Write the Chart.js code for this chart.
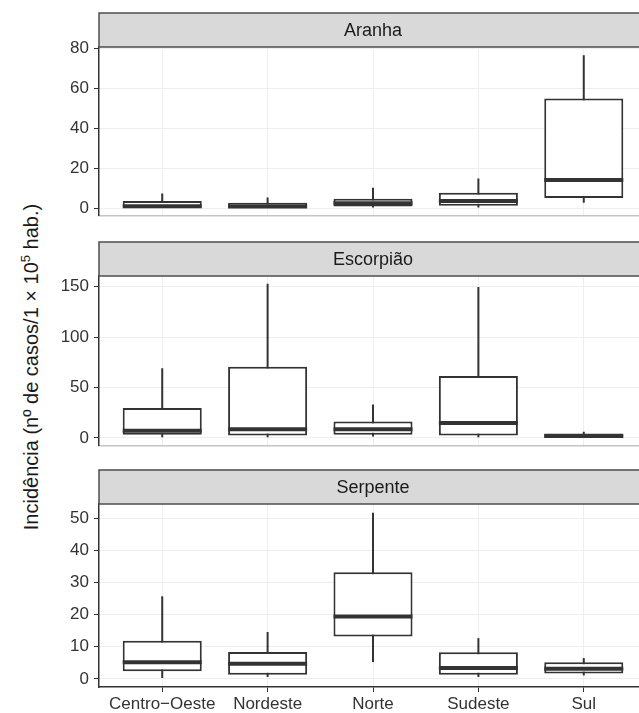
<!DOCTYPE html>
<html>
<head>
<meta charset="utf-8">
<script src="https://cdn.jsdelivr.net/npm/chart.js@4.4.1/dist/chart.umd.min.js"></script>
<style>
    html, body { margin: 0; padding: 0; background: #fff; overflow: hidden; width: 639px; height: 713px; }
    canvas { position: absolute; left: 0; }
    #ytitle {
        position: absolute; left: 31px; top: 367px;
        transform: translate(-50%, -50%) rotate(-90deg);
        white-space: nowrap; color: #1a1a1a;
        font: 20px "Liberation Sans", Arial, sans-serif;
    }
    #ytitle sup { font-size: 13px; line-height: 0; }
</style>
</head>
<body>
<div id="ytitle">Incidência (nº de casos/1 × 10<sup>5</sup> hab.)</div>
<canvas id="aranha" width="647" height="220" style="top:11px"></canvas>
<canvas id="escorpiao" width="647" height="221" style="top:240px"></canvas>
<canvas id="serpente" width="647" height="245" style="top:468px"></canvas>
<script>
// regions on the x axis
const regions = ['Centro−Oeste', 'Nordeste', 'Norte', 'Sudeste', 'Sul'];

// Aranha
const aranhaLow = [0, 0, 0.3, 0.3, 2.8];
const aranhaQ1 = [0.4, 0.1, 0.9, 1.2, 5.1];
const aranhaMed = [1.0, 0.8, 2.5, 3.6, 14.1];
const aranhaQ3 = [3.6, 2.8, 4.8, 7.8, 55.0];
const aranhaHigh = [7.4, 5.4, 10.2, 14.9, 76.7];
const aranhaTicks = [0, 20, 40, 60, 80];

// Escorpião
const escorpiaoLow = [0.6, 0.6, 1.5, 0.6, 0];
const escorpiaoQ1 = [3.1, 2.5, 3.1, 2.5, 0.3];
const escorpiaoMed = [7.1, 8.6, 8.6, 14.8, 2.0];
const escorpiaoQ3 = [29.8, 70.7, 16.3, 61.5, 4.4];
const escorpiaoHigh = [69.2, 152.8, 33.2, 149.7, 6.2];
const escorpiaoTicks = [0, 50, 100, 150];

// Serpente
const serpenteLow = [0.3, 0.6, 5.3, 0.6, 1.1];
const serpenteQ1 = [2.4, 1.3, 13.2, 1.3, 1.7];
const serpenteMed = [5.2, 4.7, 19.4, 3.4, 3.2];
const serpenteQ3 = [11.9, 8.4, 33.2, 8.3, 5.2];
const serpenteHigh = [25.7, 14.6, 51.7, 12.7, 6.5];
const serpenteTicks = [0, 10, 20, 30, 40, 50];

Chart.defaults.font.family = '"Liberation Sans", Arial, sans-serif';

const lineColor = '#333333';
const gridColor = '#eeeeee';

// grey strip with the panel name above the plot area
const stripPlugin = {
    id: 'strip',
    afterDraw(chart, args, opts) {
        const ctx = chart.ctx;
        const a = chart.chartArea;
        const h = 34;
        ctx.save();
        ctx.fillStyle = '#d9d9d9';
        ctx.fillRect(a.left, a.top - h, a.right - a.left, h);
        ctx.strokeStyle = '#4d4d4d';
        ctx.lineWidth = 1.5;
        ctx.strokeRect(a.left, a.top - h, a.right - a.left, h);
        ctx.fillStyle = '#1a1a1a';
        ctx.font = '18px "Liberation Sans", Arial, sans-serif';
        ctx.textAlign = 'center';
        ctx.textBaseline = 'middle';
        ctx.fillText(opts.text, (a.left + a.right) / 2, a.top - h / 2 + 1);
        ctx.restore();
    }
};

function makePanel(id, name, low, q1, med, q3, high, ticks, yMin, yMax, bottom) {
    const xs = regions.map((r, i) => i + 1);
    new Chart(document.getElementById(id), {
        type: 'bar',
        data: {
            datasets: [
                {
                    // whiskers
                    data: xs.map((x, i) => ({ x: x, y: [low[i], high[i]] })),
                    backgroundColor: lineColor,
                    maxBarThickness: 2,
                    grouped: false,
                    order: 3
                },
                {
                    // boxes
                    data: xs.map((x, i) => ({ x: x, y: [q1[i], q3[i]] })),
                    backgroundColor: '#ffffff',
                    borderColor: lineColor,
                    borderWidth: 2,
                    borderSkipped: false,
                    barPercentage: 0.75,
                    categoryPercentage: 1,
                    grouped: false,
                    order: 2
                },
                {
                    // medians
                    type: 'line',
                    data: xs.map((x, i) => ({ x: x, y: med[i] })),
                    showLine: false,
                    pointStyle: 'line',
                    pointRadius: (c) => {
                        const sx = c.chart.scales.x;
                        return sx.getPixelForValue(1.375) - sx.getPixelForValue(1);
                    },
                    pointBorderColor: lineColor,
                    pointBorderWidth: 4,
                    order: 1
                }
            ]
        },
        options: {
            responsive: false,
            animation: false,
            events: [],
            layout: { padding: { top: 36, left: 0, right: 0, bottom: 0 } },
            plugins: {
                legend: { display: false },
                tooltip: { enabled: false },
                strip: { text: name }
            },
            scales: {
                x: {
                    type: 'linear',
                    min: 0.4,
                    max: 5.6,
                    offset: false,
                    afterBuildTicks: (s) => { s.ticks = xs.map(v => ({ value: v })); },
                    afterFit: (s) => { s.height = bottom ? 26 : 2; },
                    grid: {
                        offset: false,
                        color: gridColor,
                        drawTicks: bottom,
                        tickLength: 5,
                        tickColor: lineColor
                    },
                    border: { color: bottom ? lineColor : '#c4c4c4', width: 1.5 },
                    ticks: {
                        display: bottom,
                        padding: 2,
                        maxRotation: 0,
                        autoSkip: false,
                        color: '#333333',
                        font: { size: 17 },
                        callback: (v) => regions[v - 1]
                    }
                },
                y: {
                    min: yMin,
                    max: yMax,
                    afterBuildTicks: (s) => { s.ticks = ticks.map(v => ({ value: v })); },
                    afterFit: (s) => { s.width = 99; },
                    grid: {
                        color: gridColor,
                        tickLength: 5,
                        tickColor: lineColor
                    },
                    border: { color: lineColor, width: 1.5 },
                    ticks: {
                        padding: 5,
                        color: '#333333',
                        font: { size: 17 }
                    }
                }
            }
        },
        plugins: [stripPlugin]
    });
}

makePanel('aranha', 'Aranha', aranhaLow, aranhaQ1, aranhaMed, aranhaQ3, aranhaHigh, aranhaTicks, -3.8, 80.8, false);
makePanel('escorpiao', 'Escorpião', escorpiaoLow, escorpiaoQ1, escorpiaoMed, escorpiaoQ3, escorpiaoHigh, escorpiaoTicks, -7.8, 160.6, false);
makePanel('serpente', 'Serpente', serpenteLow, serpenteQ1, serpenteMed, serpenteQ3, serpenteHigh, serpenteTicks, -2.5, 54.4, true);
</script>
</body>
</html>
